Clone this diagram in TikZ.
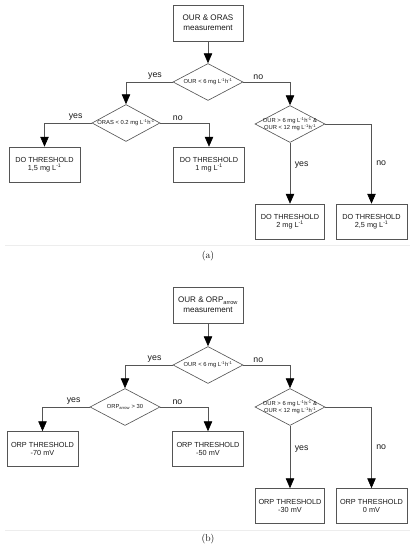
\documentclass[tikz,border=0pt]{standalone}
\usepackage{fontspec}
\setsansfont{Liberation Sans}
\usetikzlibrary{shapes.geometric, arrows.meta, positioning, calc}
\definecolor{linegray}{HTML}{555555}
\definecolor{textdark}{HTML}{1A1A1A}
\definecolor{rulegray}{HTML}{EDEDED}
\newcommand{\perlh}{L\textsuperscript{-1}h\textsuperscript{-1}}

\begin{document}
\begin{tikzpicture}[
    x=0.05cm, y=-0.05cm,
    box/.style={rectangle, draw=linegray, line width=0.9pt, fill=white, text=textdark, minimum width=3.55cm, minimum height=1.75cm, align=center, font=\sffamily\fontsize{10.4}{12}\selectfont},
    startbox/.style={box, minimum width=3.5cm, minimum height=1.8cm, font=\sffamily\fontsize{11.5}{14}\selectfont},
    decision/.style={diamond, draw=linegray, line width=0.9pt, text=textdark, shape aspect=2, inner xsep=-12pt, inner ysep=0pt, minimum width=3.5cm, minimum height=1.85cm, align=center, font=\sffamily\fontsize{8.3}{8.5}\selectfont},
    flow/.style={draw=linegray, line width=0.9pt, -{Triangle[width=12pt, length=14pt, color=black]}},
    answer/.style={font=\sffamily\fontsize{12.5}{14}\selectfont, text=textdark},
]
\useasboundingbox (0,0) rectangle (414,550);

% (a) OUR & ORAS
\node[startbox] (ma) at (208,23) {OUR \& ORAS\\measurement};
\node[decision] (qa1) at (208,82) {OUR < 6 mg \perlh};
\node[decision, minimum width=3.4cm] (qa2) at (126,123) {ORAS < 0.2 mg \perlh};
\node[decision] (qa3) at (290,124) {OUR > 6 mg \perlh{} \&\\OUR < 12 mg \perlh};

\node[box] (ta1) at (44.5,164.5) {DO THRESHOLD\\1,5 mg L\textsuperscript{-1}};
\node[box] (ta2) at (209,164.5) {DO THRESHOLD\\1 mg L\textsuperscript{-1}};
\node[box, minimum width=3.45cm] (ta3) at (290,221.5) {DO THRESHOLD\\2 mg L\textsuperscript{-1}};
\node[box] (ta4) at (371.5,221.5) {DO THRESHOLD\\2,5 mg L\textsuperscript{-1}};

\draw[flow] (ma) -- (qa1);
\draw[flow] (qa1.west) -| node[answer, pos=0.19, above] {yes} (qa2.north);
\draw[flow] (qa1.east) -| node[answer, pos=0.16, above] {no} (qa3.north);
\draw[flow] (qa2.west) -| node[answer, pos=0.17, above] {yes} (ta1.north);
\draw[flow] (qa2.east) -| node[answer, pos=0.18, above] {no} (ta2.north);
\draw[flow] (qa3.south) -- node[answer, pos=0.37, right=3pt] {yes} (ta3.north);
\draw[flow] (qa3.east) -| node[answer, pos=0.745, right=3pt] {no} (ta4.north);

\draw[rulegray, line width=1pt] (5,245) -- (410,245);
\node[font=\fontsize{14}{16}\selectfont] (capa) at (208,256) {(a)};

% (b) OUR & ORParrow
\begin{scope}[shift={(0,284)}]
\node[startbox] (mb) at (208,21) {OUR \& ORP\textsubscript{arrow}\\measurement};
\node[decision] (qb1) at (208,81) {OUR < 6 mg \perlh};
\node[decision] (qb2) at (125,123) {ORP\textsubscript{arrow} > 30};
\node[decision] (qb3) at (290,123) {OUR > 6 mg \perlh{} \&\\OUR < 12 mg \perlh};

\node[box] (tb1) at (42.5,165) {ORP THRESHOLD\\-70 mV};
\node[box] (tb2) at (208,165) {ORP THRESHOLD\\-50 mV};
\node[box, minimum width=3.45cm] (tb3) at (290,222) {ORP THRESHOLD\\-30 mV};
\node[box] (tb4) at (371.5,222) {ORP THRESHOLD\\0 mV};

\draw[flow] (mb) -- (qb1);
\draw[flow] (qb1.west) -| node[answer, pos=0.19, above] {yes} (qb2.north);
\draw[flow] (qb1.east) -| node[answer, pos=0.16, above] {no} (qb3.north);
\draw[flow] (qb2.west) -| node[answer, pos=0.17, above] {yes} (tb1.north);
\draw[flow] (qb2.east) -| node[answer, pos=0.18, above] {no} (tb2.north);
\draw[flow] (qb3.south) -- node[answer, pos=0.37, right=3pt] {yes} (tb3.north);
\draw[flow] (qb3.east) -| node[answer, pos=0.745, right=3pt] {no} (tb4.north);

\draw[rulegray, line width=1pt] (5,246) -- (410,246);
\node[font=\fontsize{14}{16}\selectfont] (capb) at (208,255) {(b)};
\end{scope}
\end{tikzpicture}
\end{document}
